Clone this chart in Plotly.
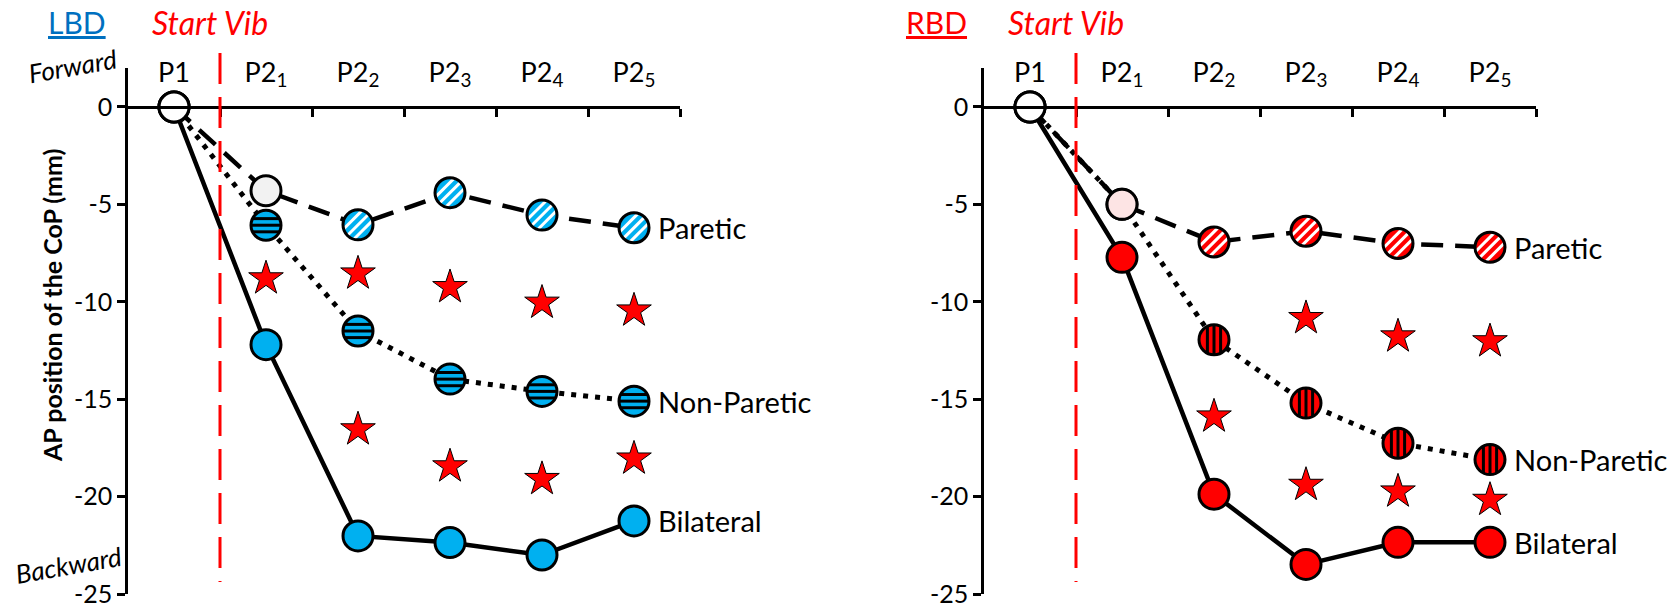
import numpy as np
import plotly.graph_objects as go

# ---------------------------------------------------------------- canvas
FIG_W, FIG_H = 1675, 606
TOP, BOTTOM = 68, 12
PLOT_H = FIG_H - TOP - BOTTOM
Y_MIN, Y_MAX = -25, 2
X_LO, X_HI = -0.5, 5.5
FONT = "Lato"

# ---------------------------------------------------------------- data
phases = ["P1", "P2<sub>1</sub>", "P2<sub>2</sub>", "P2<sub>3</sub>",
          "P2<sub>4</sub>", "P2<sub>5</sub>"]
y_ticks = [0, -5, -10, -15, -20, -25]
y_tick_text = ["0", "-5", "-10", "-15", "-20", "-25"]

# LBD group (mm)
lbd_paretic = [0, -4.3, -6.05, -4.4, -5.55, -6.2]
lbd_nonparetic = [0, -6.07, -11.5, -13.97, -14.6, -15.1]
lbd_bilateral = [0, -12.2, -22.02, -22.36, -23.0, -21.25]
lbd_star_upper = [None, -8.8, -8.55, -9.25, -10.05, -10.45]
lbd_star_lower = [None, None, -16.55, -18.45, -19.1, -18.05]

# RBD group (mm)
rbd_paretic = [0, -5.0, -6.93, -6.38, -7.01, -7.2]
rbd_nonparetic = [0, -5.0, -11.95, -15.2, -17.26, -18.1]
rbd_bilateral = [0, -7.72, -19.88, -23.48, -22.35, -22.35]
rbd_star_upper = [None, None, None, -10.84, -11.78, -12.03]
rbd_star_lower = [None, None, -15.89, -19.4, -19.74, -20.17]

# ---------------------------------------------------------------- styles
BLUE = "#00B0F0"
RED = "#FF0000"
WHITE = "#FFFFFF"

lbd_paretic_fill = [WHITE, "#F2F2F2", BLUE, BLUE, BLUE, BLUE]
lbd_nonparetic_fill = [WHITE, BLUE, BLUE, BLUE, BLUE, BLUE]
lbd_bilateral_fill = [WHITE, BLUE, BLUE, BLUE, BLUE, BLUE]
rbd_paretic_fill = [WHITE, "#FDE4E4", RED, RED, RED, RED]
rbd_nonparetic_fill = [WHITE, RED, RED, RED, RED, RED]
rbd_bilateral_fill = [WHITE, RED, RED, RED, RED, RED]

MARKER_SIZE = 30
BORDER = 3
STAR_SIZE = 26
STRIPE_W = 3
LABEL_SIZE = 29
LINE_STYLES = {
    "solid": dict(color="black", width=4.5),
    "dot": dict(color="black", width=5, dash="5px,7px"),
    "dash": dict(color="black", width=4.5, dash="22px,12px"),
}

x_pos = np.arange(len(phases))


def paper_x(px):
    return px / FIG_W


def paper_y(py):
    return (FIG_H - BOTTOM - py) / PLOT_H


panels = [
    dict(tag="LBD", tag_color="#0070C0", tag_x=77, main=BLUE, px0=128, px1=680,
         xa="x", ya="y", za="x3",
         series=[("Bilateral", lbd_bilateral, lbd_bilateral_fill, None, 0, "solid"),
                 ("Non-Paretic", lbd_nonparetic, lbd_nonparetic_fill, "h", 6.6, "dot"),
                 ("Paretic", lbd_paretic, lbd_paretic_fill, "d", 7.2, "dash")],
         stars=[lbd_star_upper, lbd_star_lower], axis_notes=True),
    dict(tag="RBD", tag_color=RED, tag_x=936, main=RED, px0=984, px1=1536,
         xa="x2", ya="y2", za="x4",
         series=[("Bilateral", rbd_bilateral, rbd_bilateral_fill, None, 0, "solid"),
                 ("Non-Paretic", rbd_nonparetic, rbd_nonparetic_fill, "v", 6.6, "dot"),
                 ("Paretic", rbd_paretic, rbd_paretic_fill, "d", 7.2, "dash")],
         stars=[rbd_star_upper, rbd_star_lower], axis_notes=False),
]


def stripe_trace(xs, ys, kind, colour, d, ppx, ppy, xa, ya):
    """One stripe (offset d px from the centre) across each hatched marker."""
    r = MARKER_SIZE / 2
    chord = 2 * np.sqrt(max(r * r - d * d, 0.0))
    if kind == "h":
        sym, size, dx, dy = "line-ew", chord / 1.4, 0.0, -d / ppy
    elif kind == "v":
        sym, size, dx, dy = "line-ns", chord / 1.4, d / ppx, 0.0
    else:
        s = d / np.sqrt(2)
        sym, size, dx, dy = "line-ne", chord / np.sqrt(2), s / ppx, -s / ppy
    return go.Scatter(
        x=[x + dx for x in xs], y=[y + dy for y in ys], xaxis=xa, yaxis=ya,
        mode="markers", showlegend=False, hoverinfo="skip",
        marker=dict(symbol=sym, size=size, color=colour,
                    line=dict(color=colour, width=STRIPE_W)))


fig = go.Figure()
annotations = []
shapes = []
layout_axes = {}

for i, p in enumerate(panels):
    xa, ya, za = p["xa"], p["ya"], p["za"]
    ppx = (p["px1"] - p["px0"]) / (X_HI - X_LO)
    ppy = PLOT_H / (Y_MAX - Y_MIN)

    # connecting lines underneath every marker
    for name, vals, fills, hatch, gap, style in p["series"]:
        fig.add_trace(go.Scatter(x=x_pos, y=vals, xaxis=xa, yaxis=ya, mode="lines",
                                 line=LINE_STYLES[style], showlegend=False,
                                 hoverinfo="skip"))

    # markers: fill, hatching, outline
    for name, vals, fills, hatch, gap, style in p["series"]:
        fig.add_trace(go.Scatter(x=x_pos, y=vals, xaxis=xa, yaxis=ya, mode="markers",
                                 name=name, showlegend=False,
                                 marker=dict(symbol="circle", size=MARKER_SIZE,
                                             color=fills, line=dict(width=0))))
        if hatch:
            idx = [k for k, f in enumerate(fills) if f == p["main"]]
            hx = [x_pos[k] for k in idx]
            hy = [vals[k] for k in idx]
            colour = "white" if hatch == "d" else "black"
            for d in (-gap, 0.0, gap):
                fig.add_trace(stripe_trace(hx, hy, hatch, colour, d, ppx, ppy, xa, ya))
        fig.add_trace(go.Scatter(x=x_pos, y=vals, xaxis=xa, yaxis=ya, mode="markers",
                                 showlegend=False, hoverinfo="skip",
                                 marker=dict(symbol="circle", size=MARKER_SIZE,
                                             color="rgba(0,0,0,0)",
                                             line=dict(color="black", width=BORDER))))
        # series name after the last phase
        annotations.append(dict(x=x_pos[-1], y=vals[-1], xref=xa, yref=ya,
                                text=name, showarrow=False, xanchor="left",
                                yanchor="middle", xshift=22,
                                font=dict(family=FONT, size=LABEL_SIZE, color="black")))

    # significance stars
    for stars in p["stars"]:
        fig.add_trace(go.Scatter(x=x_pos, y=stars, xaxis=xa, yaxis=ya, mode="markers",
                                 showlegend=False, hoverinfo="skip",
                                 marker=dict(symbol="star", size=STAR_SIZE, color=RED,
                                             line=dict(color="black", width=1))))

    # anchor trace for the zero-line axis
    fig.add_trace(go.Scatter(x=[None], y=[None], xaxis=za, yaxis=ya, mode="markers",
                             showlegend=False, hoverinfo="skip"))

    dom = [paper_x(p["px0"]), paper_x(p["px1"])]
    sfx = "" if i == 0 else str(i + 1)
    layout_axes["xaxis" + sfx] = dict(
        domain=dom, range=[X_LO, X_HI], anchor=ya, side="top",
        tickmode="array", tickvals=list(x_pos), ticktext=phases, ticks="",
        showline=False, showgrid=False, zeroline=False, ticklabelstandoff=-20,
        ticklabeloverflow="allow",
        tickfont=dict(family=FONT, size=27, color="black"), fixedrange=True)
    layout_axes["yaxis" + sfx] = dict(
        domain=[0, 1], range=[Y_MIN, Y_MAX], anchor=xa,
        tickmode="array", tickvals=y_ticks, ticktext=y_tick_text,
        ticks="outside", ticklen=8, ticklabeloverflow="allow",
        tickwidth=2.5, tickcolor="black", showline=True, linewidth=2.5,
        linecolor="black", showgrid=False, zeroline=False,
        tickfont=dict(family=FONT, size=25, color="black"), fixedrange=True)
    layout_axes["xaxis" + za[1:]] = dict(
        domain=dom, range=[X_LO, X_HI], overlaying=xa, anchor="free",
        position=(0 - Y_MIN) / (Y_MAX - Y_MIN), side="bottom",
        tickmode="array", tickvals=[k + 0.5 for k in x_pos], ticks="outside",
        ticklen=8, tickwidth=2.5, tickcolor="black", showline=True,
        linewidth=2.5, linecolor="black", showticklabels=False,
        showgrid=False, zeroline=False, fixedrange=True)

    # vibration onset marker between P1 and P2_1
    onset = (0.5 - X_LO) / (X_HI - X_LO)
    shapes.append(dict(type="line", xref=xa + " domain", yref=ya + " domain",
                       x0=onset, x1=onset, y0=paper_y(53), y1=paper_y(582),
                       line=dict(color=RED, width=3, dash="31px,13px")))
    annotations.append(dict(x=onset, y=paper_y(22), xref=xa + " domain", yref="paper",
                            text="<i>Start Vib</i>", showarrow=False, xanchor="center",
                            yanchor="middle", xshift=-10,
                            font=dict(family=FONT, size=32, color=RED)))
    annotations.append(dict(x=paper_x(p["tag_x"]), y=paper_y(22), xref="paper",
                            yref="paper", text=p["tag"], showarrow=False,
                            xanchor="center", yanchor="middle",
                            font=dict(family=FONT, size=30, color=p["tag_color"],
                                      lineposition="under")))

    if p["axis_notes"]:
        annotations.append(dict(x=paper_x(52), y=paper_y(306), xref="paper", yref="paper",
                                text="<b>AP position of the CoP (mm)</b>", textangle=-90,
                                showarrow=False, xanchor="center", yanchor="middle",
                                font=dict(family=FONT, size=25, color="black")))
        annotations.append(dict(x=paper_x(72), y=paper_y(66), xref="paper", yref="paper",
                                text="<i>Forward</i>", textangle=-10, showarrow=False,
                                xanchor="center", yanchor="middle",
                                font=dict(family=FONT, size=26, color="black")))
        annotations.append(dict(x=paper_x(68), y=paper_y(565), xref="paper", yref="paper",
                                text="<i>Backward</i>", textangle=-10, showarrow=False,
                                xanchor="center", yanchor="middle",
                                font=dict(family=FONT, size=26, color="black")))

fig.update_layout(
    width=FIG_W, height=FIG_H,
    margin=dict(l=0, r=0, t=TOP, b=BOTTOM, autoexpand=False),
    paper_bgcolor="white", plot_bgcolor="white",
    showlegend=False, annotations=annotations, shapes=shapes,
    font=dict(family=FONT, color="black"),
    **layout_axes,
)

fig.write_html("out.html")
